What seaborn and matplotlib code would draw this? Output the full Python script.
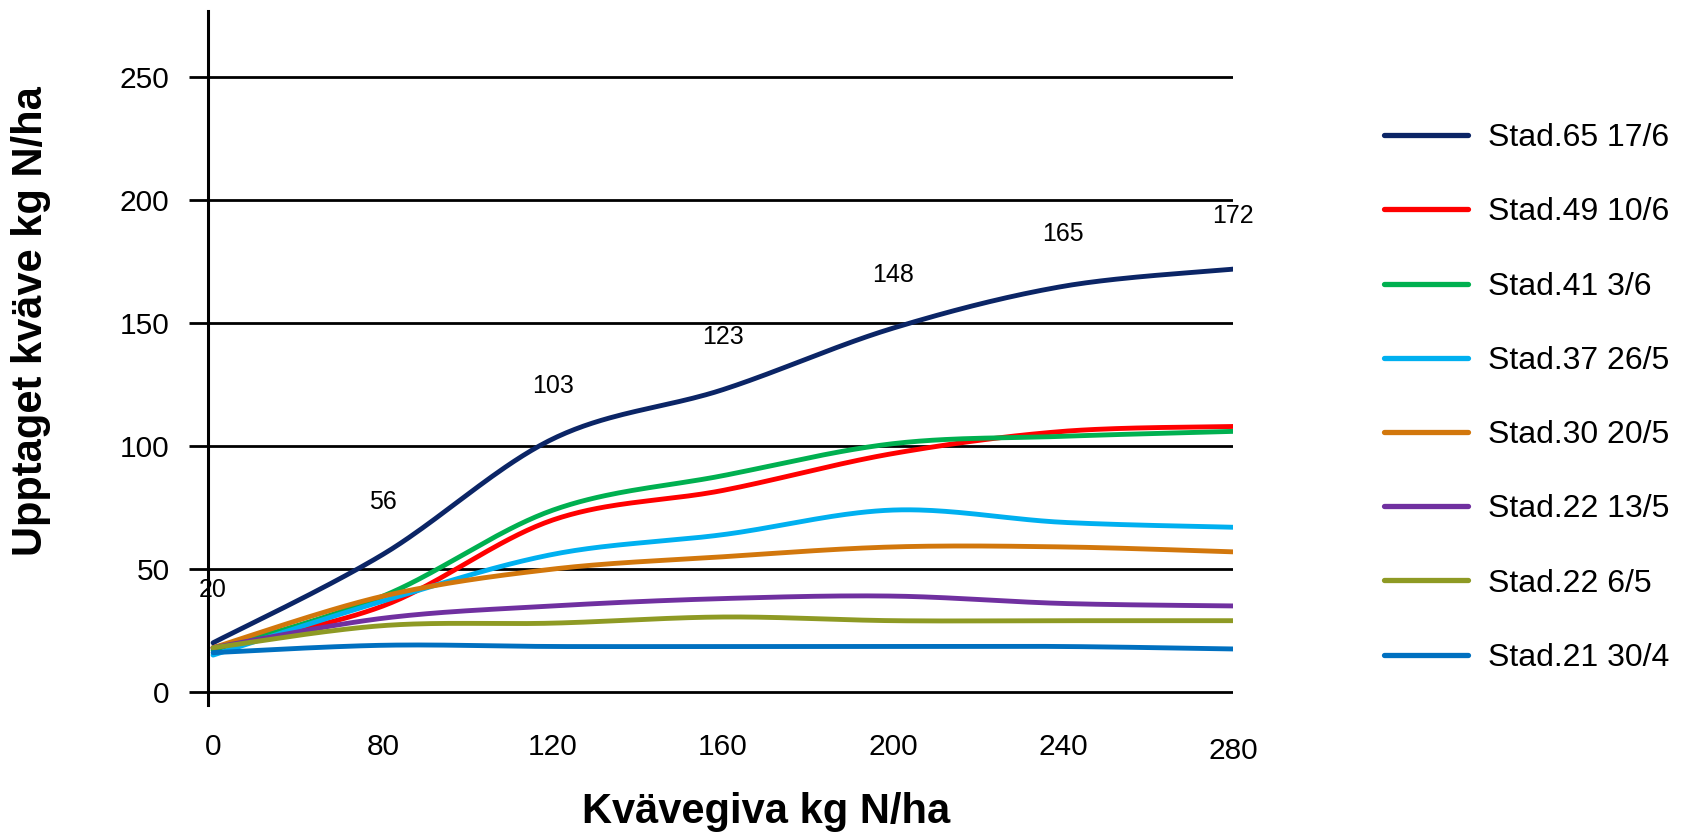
import numpy as np
import pandas as pd
import matplotlib
matplotlib.use("Agg")
import matplotlib.pyplot as plt
import matplotlib.transforms as mtransforms
import seaborn as sns

# Nitrogen rate (kg N/ha) - shown as evenly spaced categories
doses = ["0", "80", "120", "160", "200", "240", "280"]

stages = ["Stad.65 17/6", "Stad.49 10/6", "Stad.41 3/6", "Stad.37 26/5",
          "Stad.30 20/5", "Stad.22 13/5", "Stad.22 6/5", "Stad.21 30/4"]

# Nitrogen uptake (kg N/ha) per growth stage
stad65_17_6 = [20, 56, 103, 123, 148, 165, 172]
stad49_10_6 = [18, 35, 70, 82, 97, 106, 108]
stad41_3_6 = [17, 39, 74, 88, 101, 104, 106]
stad37_26_5 = [15, 37, 56, 64, 74, 69, 67]
stad30_20_5 = [18, 39, 50, 55, 59, 59, 57]
stad22_13_5 = [18, 30, 35, 38, 39, 36, 35]
stad22_6_5 = [18, 27, 28, 30.5, 29, 29, 29]
stad21_30_4 = [16, 19, 18.5, 18.5, 18.5, 18.5, 17.5]

series = [stad65_17_6, stad49_10_6, stad41_3_6, stad37_26_5,
          stad30_20_5, stad22_13_5, stad22_6_5, stad21_30_4]

colors = ["#0B2566", "#FF0000", "#00B050", "#00B0F0",
          "#D2770C", "#7030A0", "#8E9A24", "#0070C0"]

yticks = [0, 50, 100, 150, 200, 250]


def smooth(xs, ys, n=40):
    """Bezier smoothing through the points (spreadsheet-style smoothed line)."""
    p = np.column_stack([xs, ys]).astype(float)
    ext = np.vstack([p[0], p, p[-1]])
    out = []
    t = np.linspace(0, 1, n)[:, None]
    for i in range(len(p) - 1):
        p0, p1, p2, p3 = ext[i], ext[i + 1], ext[i + 2], ext[i + 3]
        c1 = p1 + (p2 - p0) / 6.0
        c2 = p2 - (p3 - p1) / 6.0
        seg = ((1 - t) ** 3) * p1 + 3 * ((1 - t) ** 2) * t * c1 \
            + 3 * (1 - t) * t ** 2 * c2 + t ** 3 * p2
        out.append(seg if i == 0 else seg[1:])
    return np.vstack(out)


xpos = np.arange(len(doses))
frames = []
for name, vals in zip(stages, series):
    curve = smooth(xpos, vals)
    frames.append(pd.DataFrame({"x": curve[:, 0], "y": curve[:, 1], "stage": name}))
df = pd.concat(frames, ignore_index=True)

sns.set_theme(style="white")
plt.rcParams["font.family"] = ["Liberation Sans", "DejaVu Sans"]
plt.rcParams["text.color"] = "black"
plt.rcParams["axes.labelcolor"] = "black"
plt.rcParams["xtick.color"] = "black"
plt.rcParams["ytick.color"] = "black"

fig = plt.figure(figsize=(16.88, 8.38), dpi=100)
ax = fig.add_axes([0.1232, 0.1587, 0.7305 - 0.1232, 0.9869 - 0.1587])

for yv in yticks:
    ax.axhline(yv, color="black", lw=2.0, zorder=1)

sns.lineplot(data=df, x="x", y="y", hue="stage", hue_order=stages,
             palette=colors, sort=False, estimator=None, linewidth=3.5,
             ax=ax, legend=True, zorder=3)

# value labels on the top series
for xi, v in zip(xpos, stad65_17_6):
    ax.annotate(f"{v}", (xi, v), xytext=(0, 38), textcoords="offset points",
                ha="center", va="center", fontsize=18, color="black",
                annotation_clip=False, zorder=4)

ax.set_xlim(-0.03, 6.0)
ax.set_ylim(-5.3, 277)
ax.set_xticks(xpos)
ax.set_xticklabels(doses)
ax.set_yticks(yticks)
ax.set_yticklabels([str(v) for v in yticks])

for s in ["top", "right", "bottom"]:
    ax.spines[s].set_visible(False)
ax.spines["left"].set_color("black")
ax.spines["left"].set_linewidth(2.2)

ax.tick_params(axis="y", direction="out", length=13.7, width=2.0,
               color="black", pad=14, labelsize=21.5, labelcolor="black", left=True)
ax.tick_params(axis="x", length=0, pad=20, labelsize=21.5, labelcolor="black")

# the last dose label sits a little lower
last = ax.get_xticklabels()[-1]
last.set_transform(last.get_transform()
                   + mtransforms.ScaledTranslation(0, -0.04, fig.dpi_scale_trans))

ax.set_xlabel("Kvävegiva kg N/ha", fontsize=30, fontweight="bold")
ax.set_ylabel("Upptaget kväve kg N/ha", fontsize=30, fontweight="bold")
ax.xaxis.set_label_coords(0.5444, -0.126)
ax.yaxis.set_label_coords(-0.1532, 0.5526)

handles, labels = ax.get_legend_handles_labels()
ax.get_legend().remove()
for h in handles:
    h.set_linewidth(3.8)
fig.legend(handles, labels, loc="center left", bbox_to_anchor=(1384 / 1688, 0.525),
           frameon=False, fontsize=23, handlelength=2.63, handletextpad=0.62,
           labelspacing=1.385, borderpad=0, borderaxespad=0)

fig.savefig("out.png", dpi=100)
